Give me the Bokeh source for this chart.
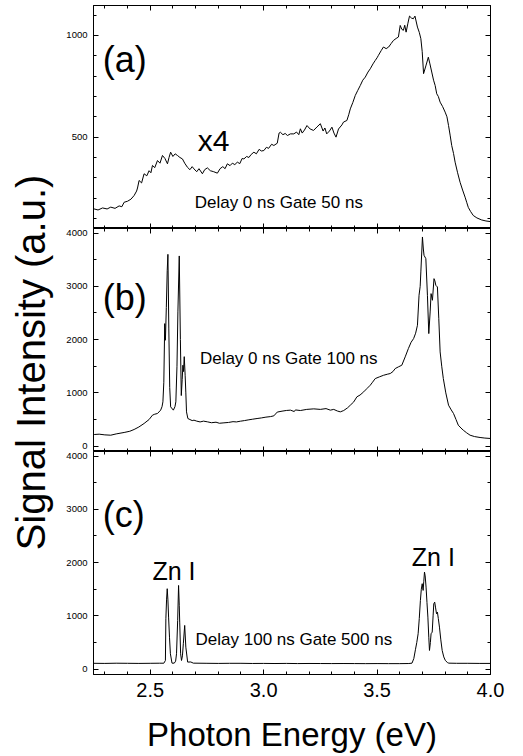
import math
from bokeh.plotting import figure
from bokeh.models import (Range1d, LinearAxis, FixedTicker, Label, NumeralTickFormatter,
                          CustomLabelingPolicy, AllLabels)
from bokeh.layouts import column, row
from bokeh.embed import file_html
from bokeh.resources import INLINE

FONT = "Liberation Sans"

# ---------------- data ----------------
energy_a = [2.250, 2.270, 2.290, 2.310, 2.326, 2.345, 2.363, 2.375, 2.385, 2.400, 2.415, 2.429,
            2.440, 2.444, 2.451, 2.462, 2.473, 2.485, 2.495, 2.503, 2.510, 2.520, 2.532, 2.543,
            2.554, 2.565, 2.576, 2.583, 2.590, 2.600, 2.610, 2.620, 2.631, 2.642, 2.652, 2.664,
            2.675, 2.685, 2.693, 2.705, 2.715, 2.730, 2.740, 2.752, 2.765, 2.780, 2.796, 2.808,
            2.820, 2.830, 2.840, 2.852, 2.862, 2.873, 2.884, 2.895, 2.905, 2.913, 2.925, 2.935,
            2.945, 2.957, 2.968, 2.980, 2.990, 3.001, 3.012, 3.022, 3.035, 3.045, 3.060, 3.068,
            3.074, 3.085, 3.095, 3.105, 3.118, 3.133, 3.145, 3.155, 3.162, 3.170, 3.180, 3.191,
            3.205, 3.220, 3.235, 3.250, 3.262, 3.270, 3.278, 3.290, 3.301, 3.310, 3.319, 3.330,
            3.345, 3.352, 3.367, 3.375, 3.382, 3.393, 3.404, 3.415, 3.426, 3.437, 3.448, 3.460,
            3.470, 3.482, 3.492, 3.500, 3.506, 3.518, 3.528, 3.540, 3.551, 3.562, 3.572, 3.584,
            3.594, 3.602, 3.609, 3.616, 3.622, 3.628, 3.636, 3.643, 3.652, 3.660, 3.667, 3.678,
            3.686, 3.693, 3.699, 3.705, 3.715, 3.726, 3.733, 3.741, 3.749, 3.756, 3.763, 3.770,
            3.778, 3.789, 3.800, 3.808, 3.815, 3.822, 3.829, 3.837, 3.844, 3.855, 3.866, 3.877,
            3.888, 3.895, 3.902, 3.912, 3.924, 3.940, 3.961, 3.980, 4.000]
signal_a = [148, 142, 152, 147, 156, 150, 162, 158, 180, 185, 195, 213,
            235, 250, 287, 275, 320, 310, 335, 325, 361, 350, 385, 372,
            410, 395, 369, 400, 426, 405, 418, 410, 400, 393, 372, 352,
            340, 355, 344, 330, 345, 320, 340, 349, 335, 330, 323, 345,
            355, 345, 369, 360, 372, 365, 377, 370, 395, 393, 405, 400,
            415, 426, 418, 440, 432, 434, 450, 445, 465, 459, 470, 520,
            524, 512, 518, 508, 516, 516, 525, 512, 541, 520, 535, 557,
            540, 533, 550, 566, 530, 545, 516, 530, 549, 520, 500, 540,
            560, 574, 582, 610, 639, 670, 705, 730, 754, 780, 795, 820,
            836, 860, 877, 890, 902, 925, 943, 935, 943, 960, 975, 985,
            992, 1049, 1030, 1025, 1050, 1016, 1060, 1095, 1085, 1082, 1095, 1041,
            1015, 984, 920, 812, 850, 893, 860, 820, 780, 754, 713, 700,
            672, 650, 623, 600, 557, 510, 459, 420, 377, 325, 278, 240,
            205, 180, 155, 135, 115, 103, 93, 88, 85]

energy_b = [2.253, 2.275, 2.300, 2.326, 2.350, 2.385, 2.410, 2.429, 2.450, 2.473, 2.495, 2.510,
            2.520, 2.532, 2.546, 2.552, 2.556, 2.560, 2.564, 2.567, 2.571, 2.575, 2.578, 2.582,
            2.586, 2.590, 2.602, 2.609, 2.613, 2.618, 2.622, 2.628, 2.633, 2.637, 2.641, 2.644,
            2.647, 2.650, 2.654, 2.657, 2.660, 2.666, 2.675, 2.685, 2.693, 2.705, 2.720, 2.735,
            2.752, 2.770, 2.790, 2.805, 2.825, 2.845, 2.865, 2.880, 2.898, 2.915, 2.935, 2.950,
            2.971, 2.990, 3.010, 3.030, 3.045, 3.060, 3.081, 3.100, 3.118, 3.135, 3.140, 3.162,
            3.190, 3.221, 3.250, 3.275, 3.294, 3.309, 3.325, 3.338, 3.353, 3.370, 3.382, 3.397,
            3.411, 3.425, 3.441, 3.455, 3.470, 3.480, 3.492, 3.510, 3.529, 3.545, 3.558, 3.570,
            3.580, 3.595, 3.609, 3.624, 3.638, 3.650, 3.661, 3.670, 3.678, 3.685, 3.690, 3.693,
            3.700, 3.704, 3.707, 3.715, 3.722, 3.728, 3.734, 3.738, 3.744, 3.751, 3.755, 3.759,
            3.766, 3.772, 3.778, 3.785, 3.792, 3.803, 3.815, 3.827, 3.837, 3.848, 3.858, 3.870,
            3.880, 3.895, 3.910, 3.930, 3.954, 3.975, 4.000]
signal_b = [219, 225, 212, 206, 230, 257, 280, 313, 360, 426, 500, 582,
            600, 613, 676, 740, 832, 1200, 2300, 1988, 2600, 3300, 3600, 2200,
            1100, 738, 676, 740, 832, 1500, 2520, 3570, 2000, 950, 1250, 1519,
            1400, 1680, 1331, 1000, 644, 519, 500, 480, 488, 470, 455, 470,
            457, 440, 450, 430, 438, 445, 460, 455, 469, 480, 495, 505,
            519, 530, 545, 555, 569, 640, 657, 670, 676, 650, 680, 669,
            690, 700, 690, 705, 676, 690, 660, 644, 669, 720, 769, 830,
            926, 960, 1019, 1080, 1144, 1200, 1269, 1300, 1331, 1350, 1363, 1400,
            1457, 1490, 1519, 1676, 1832, 1950, 2019, 2120, 2269, 2832, 3000, 3270,
            3926, 3700, 3582, 3519, 2832, 2113, 2519, 2863, 2738, 3144, 3100, 3019,
            2988, 2400, 1769, 1500, 1269, 1000, 769, 680, 613, 500, 394, 340,
            300, 250, 206, 180, 163, 152, 144]

energy_c = [2.250, 2.300, 2.350, 2.400, 2.450, 2.500, 2.540, 2.560, 2.567, 2.569, 2.572, 2.575,
            2.578, 2.581, 2.585, 2.589, 2.596, 2.606, 2.612, 2.616, 2.621, 2.625, 2.628, 2.630,
            2.634, 2.638, 2.642, 2.646, 2.652, 2.657, 2.665, 2.679, 2.690, 2.750, 2.800, 2.850,
            2.900, 2.950, 3.000, 3.050, 3.100, 3.150, 3.200, 3.250, 3.300, 3.350, 3.400, 3.450,
            3.500, 3.550, 3.600, 3.640, 3.654, 3.662, 3.669, 3.675, 3.681, 3.686, 3.691, 3.695,
            3.699, 3.703, 3.706, 3.709, 3.712, 3.716, 3.720, 3.724, 3.728, 3.731, 3.735, 3.738,
            3.743, 3.747, 3.750, 3.754, 3.758, 3.762, 3.766, 3.770, 3.775, 3.781, 3.787, 3.794,
            3.801, 3.810, 3.816, 3.850, 3.900, 3.950, 4.000]
signal_c = [110, 108, 112, 110, 108, 110, 112, 112, 163, 946, 1300, 1510,
            1300, 977, 600, 289, 113, 113, 150, 289, 914, 1571, 1200, 883,
            289, 163, 250, 477, 821, 413, 133, 135, 113, 110, 108, 110,
            110, 107, 108, 106, 108, 105, 107, 106, 105, 106, 105, 104,
            105, 104, 104, 106, 113, 200, 364, 500, 665, 950, 1290, 1500,
            1604, 1478, 1650, 1822, 1750, 1540, 1250, 977, 600, 351, 500, 665,
            695, 1000, 1228, 1258, 1150, 1040, 1070, 950, 789, 550, 351, 230,
            163, 125, 113, 110, 110, 108, 108]

x_major = [2.5, 3.0, 3.5, 4.0]
x_minor = [2.3, 2.4, 2.6, 2.7, 2.8, 2.9, 3.1, 3.2, 3.3, 3.4, 3.6, 3.7, 3.8, 3.9]
a_major = [500, 1000]
a_minor = [100, 200, 300, 400, 600, 700, 800, 900, 1100]
bc_major = [0, 1000, 2000, 3000, 4000]
bc_minor = [500, 1500, 2500, 3500]

panel_tags = ["(a)", "(b)", "(c)"]
notes = ["Delay 0 ns Gate 50 ns", "Delay 0 ns Gate 100 ns", "Delay 100 ns Gate 500 ns"]

FRAME_W = 397
LABEL_W = 57
LEFT = 36
RIGHT = 16
FRAME_H = 223
TOP = 5

HIDE_CODE = """
try {
  return new indices.constructor(indices.size, 0);
} catch (e) {
  return indices;
}
"""


def style_axis(ax, major, minor, show_labels, label_size="9.5px", standoff=6):
    ax.ticker = FixedTicker(ticks=major, minor_ticks=minor)
    ax.major_tick_in = 5
    ax.major_tick_out = 0
    ax.minor_tick_in = 3
    ax.minor_tick_out = 0
    ax.axis_line_color = "black"
    ax.major_tick_line_color = "black"
    ax.minor_tick_line_color = "black"
    ax.major_label_text_font = FONT
    ax.major_label_text_color = "black"
    if show_labels:
        ax.major_label_text_font_size = label_size
        ax.major_label_standoff = standoff
        ax.major_label_policy = AllLabels()
    else:
        ax.major_label_text_font_size = "0px"
        ax.major_label_standoff = 0
        ax.major_label_policy = CustomLabelingPolicy(code=HIDE_CODE)


def make_panel(xs, ys, yr, ymajor, yminor, top_border, is_bottom):
    p = figure(frame_width=FRAME_W, frame_height=FRAME_H,
               x_range=Range1d(2.25, 4.0), y_range=Range1d(*yr),
               output_backend="svg", toolbar_location=None,
               min_border_left=LEFT, min_border_right=RIGHT,
               min_border_top=top_border, min_border_bottom=0)
    p.xgrid.grid_line_color = None
    p.ygrid.grid_line_color = None
    p.outline_line_color = "black"
    p.background_fill_color = "white"
    p.border_fill_color = "white"
    p.line(xs, ys, line_color="black", line_width=1)
    p.add_layout(LinearAxis(), "above")
    p.add_layout(LinearAxis(), "right")
    for ax in p.xaxis:
        style_axis(ax, x_major, x_minor, False)
    for ax in p.yaxis:
        style_axis(ax, ymajor, yminor, False)
    style_axis(p.yaxis[0], ymajor, yminor, True, "9.5px", 6)
    if is_bottom:
        bx = p.below[0]
        style_axis(bx, x_major, x_minor, True, "20px", 8)
        bx.formatter = NumeralTickFormatter(format="0.0")
        bx.axis_label = "Photon Energy (eV)"
        bx.axis_label_text_font = FONT
        bx.axis_label_text_font_size = "33px"
        bx.axis_label_text_font_style = "normal"
        bx.axis_label_text_color = "black"
        bx.axis_label_standoff = 16
    return p


fa = make_panel(energy_a, signal_a, (51, 1147), a_major, a_minor, TOP, False)
fb = make_panel(energy_b, signal_b, (-100, 4085), bc_major, bc_minor, 0, False)
fc = make_panel(energy_c, signal_c, (-100, 4085), bc_major, bc_minor, 0, True)

txt = dict(text_font=FONT, text_color="black", text_baseline="alphabetic", text_align="left")
fa.add_layout(Label(x=2.291, y=882, text=panel_tags[0], text_font_size="36px", **txt))
fb.add_layout(Label(x=2.291, y=2794, text=panel_tags[1], text_font_size="36px", **txt))
fc.add_layout(Label(x=2.291, y=2905, text=panel_tags[2], text_font_size="36px", **txt))
fa.add_layout(Label(x=2.709, y=483, text="x4", text_font_size="30px", **txt))
fa.add_layout(Label(x=2.696, y=179, text=notes[0], text_font_size="17px", **txt))
fb.add_layout(Label(x=2.719, y=1644, text=notes[1], text_font_size="17px", **txt))
fc.add_layout(Label(x=2.700, y=552, text=notes[2], text_font_size="17px", **txt))
fc.add_layout(Label(x=2.510, y=1840, text="Zn I", text_font_size="25px", **txt))
fc.add_layout(Label(x=3.653, y=2103, text="Zn I", text_font_size="25px", **txt))

# side figure holding the shared y-axis title
yl_h = TOP + 3 * FRAME_H
yl = figure(width=LABEL_W, height=yl_h, x_range=Range1d(0, 1), y_range=Range1d(0, 1),
            x_axis_type=None, y_axis_type=None, output_backend="svg", toolbar_location=None,
            min_border=0)
yl.outline_line_color = None
yl.xgrid.grid_line_color = None
yl.ygrid.grid_line_color = None
yl.add_layout(Label(x=30 / LABEL_W, y=1 - 362 / yl_h, text="Signal Intensity (a.u.)",
                    angle=math.pi / 2, text_font=FONT, text_font_size="40px",
                    text_color="black", text_align="center", text_baseline="middle"))

layout = row(yl, column(fa, fb, fc, spacing=0), spacing=0)
open("out.html", "w").write(file_html(layout, INLINE))
